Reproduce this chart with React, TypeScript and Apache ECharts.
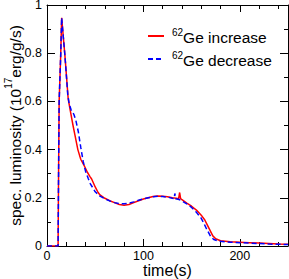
import React, { useEffect, useRef } from "react";
import * as echarts from "echarts";

// time (s) and specific luminosity (10^17 erg/g/s)
const incTime = [0, 10, 11.5, 12, 12.6, 14.2, 15.2, 18.6, 22, 24, 27, 29, 32, 35, 39, 42, 44.6, 46.3, 50, 53, 55, 60, 65, 70, 75, 80, 85, 90, 95, 100, 105, 110, 115, 120, 125, 130, 134, 136.5, 137.6, 138.6, 140, 145, 150, 155, 160, 163.7, 166, 169, 172, 175, 180, 190, 200, 210, 220, 230, 240, 250];
const incLum = [0, 0, 0, 0.3, 0.6, 0.79, 0.947, 0.79, 0.61, 0.565, 0.5, 0.46, 0.4, 0.36, 0.33, 0.305, 0.288, 0.278, 0.245, 0.222, 0.212, 0.198, 0.188, 0.18, 0.172, 0.169, 0.172, 0.18, 0.188, 0.195, 0.2, 0.205, 0.207, 0.206, 0.204, 0.2, 0.198, 0.196, 0.222, 0.197, 0.192, 0.178, 0.165, 0.149, 0.128, 0.108, 0.09, 0.066, 0.042, 0.03, 0.022, 0.018, 0.016, 0.014, 0.012, 0.01, 0.008, 0.007];

const decTime = [0, 10, 11.5, 12, 12.6, 14.2, 15.2, 18.6, 21.5, 23, 25, 28, 30, 32.5, 35, 37.6, 40, 42.8, 45, 50, 55, 60, 65, 70, 75, 80, 85, 90, 95, 100, 105, 110, 115, 120, 125, 130, 132, 132.6, 133.5, 137, 140, 145, 150, 155, 160, 162, 165, 167, 170, 173, 178, 190, 200, 210, 220, 230, 240, 250];
const decLum = [0, 0, 0, 0.3, 0.6, 0.79, 0.947, 0.79, 0.63, 0.59, 0.565, 0.545, 0.52, 0.474, 0.41, 0.35, 0.31, 0.28, 0.258, 0.225, 0.207, 0.196, 0.187, 0.18, 0.176, 0.175, 0.178, 0.183, 0.19, 0.196, 0.2, 0.204, 0.206, 0.205, 0.203, 0.198, 0.197, 0.218, 0.196, 0.193, 0.187, 0.175, 0.16, 0.14, 0.115, 0.1, 0.075, 0.06, 0.038, 0.027, 0.02, 0.016, 0.014, 0.012, 0.01, 0.008, 0.007, 0.006];

const seriesNames = ["62Ge increase", "62Ge decrease"];
const xMajorTicks = [0, 100, 200];

const FONT = "'Liberation Sans', Arial, Helvetica, sans-serif";

function pairs(xs: number[], ys: number[]) {
  return xs.map((x, i) => [x, ys[i]]);
}

function xAxisDef(position: "bottom" | "top", labels: boolean) {
  return {
    type: "value",
    position,
    min: 0,
    max: 250,
    interval: 100,
    axisLine: { show: true, onZero: false, lineStyle: { color: "#000", width: 1 } },
    axisTick: { show: true, inside: true, length: 7, lineStyle: { color: "#000" } },
    minorTick: { show: true, splitNumber: 5, length: 4, lineStyle: { color: "#000" } },
    splitLine: { show: false },
    minorSplitLine: { show: false },
    axisLabel: {
      show: labels,
      color: "#000",
      fontFamily: FONT,
      fontSize: 12.5,
      lineHeight: 12.5,
      margin: 4,
      formatter: (v: number) => (xMajorTicks.indexOf(v) >= 0 ? String(v) : ""),
    },
    ...(labels
      ? {
          name: "time(s)",
          nameLocation: "middle",
          nameGap: 16,
          nameMoveOverlap: false,
          nameTextStyle: { color: "#000", fontFamily: FONT, fontSize: 16, lineHeight: 16, verticalAlign: "top" },
        }
      : {}),
  };
}

function yAxisDef(position: "left" | "right", labels: boolean) {
  return {
    type: "value",
    position,
    min: 0,
    max: 1,
    interval: 0.2,
    axisLine: { show: true, onZero: false, lineStyle: { color: "#000", width: 1 } },
    axisTick: { show: true, inside: true, length: 8, lineStyle: { color: "#000" } },
    minorTick: { show: true, splitNumber: 2, length: 4, lineStyle: { color: "#000" } },
    splitLine: { show: false },
    minorSplitLine: { show: false },
    axisLabel: {
      show: labels,
      color: "#000",
      fontFamily: FONT,
      fontSize: 12.5,
      margin: 5,
    },
    ...(labels
      ? {
          name: "{a|spec. luminosity (10}{s|17}{a|erg/g/s)}",
          nameLocation: "middle",
          nameRotate: 90,
          nameGap: 24,
          nameMoveOverlap: false,
          nameTextStyle: {
            color: "#000",
            fontFamily: FONT,
            rich: {
              a: { fontSize: 15.5, fontFamily: FONT, color: "#000", lineHeight: 20, verticalAlign: "bottom" },
              s: { fontSize: 10, fontFamily: FONT, color: "#000", lineHeight: 20, verticalAlign: "top" },
            },
          },
        }
      : {}),
  };
}

export default function App() {
  const ref = useRef<HTMLDivElement>(null);
  useEffect(() => {
    if (!ref.current) return;
    const chart = echarts.init(ref.current, undefined, { renderer: "svg" });
    chart.setOption({
      animation: false,
      backgroundColor: "#fff",
      textStyle: { fontFamily: FONT },
      grid: { left: 47, right: 1, top: 5, bottom: 33, containLabel: false, outerBoundsMode: "none" },
      legend: {
        orient: "vertical",
        left: 142,
        top: 22,
        itemWidth: 16,
        itemHeight: 12,
        itemGap: 5,
        data: seriesNames,
        itemStyle: { opacity: 0 },
        formatter: (name: string) => "{s|62}{a|" + name.replace("62", "") + "}",
        textStyle: {
          color: "#000",
          fontFamily: FONT,
          rich: {
            s: { fontSize: 10, fontFamily: FONT, color: "#000", lineHeight: 18, verticalAlign: "top", padding: [0, 0, 0, 3] },
            a: { fontSize: 15.5, fontFamily: FONT, color: "#000", lineHeight: 18, verticalAlign: "bottom" },
          },
        },
      },
      xAxis: [xAxisDef("bottom", true), xAxisDef("top", false)],
      yAxis: [yAxisDef("left", true), yAxisDef("right", false)],
      series: [
        {
          name: seriesNames[0],
          type: "line",
          data: pairs(incTime, incLum),
          symbol: "none",
          smooth: false,
          lineStyle: { color: "#ff0000", width: 1.5, type: "solid" },
          itemStyle: { color: "#ff0000" },
          xAxisIndex: 0,
          yAxisIndex: 0,
        },
        {
          name: seriesNames[1],
          type: "line",
          data: pairs(decTime, decLum),
          symbol: "none",
          smooth: false,
          lineStyle: { color: "#0000ff", width: 1.5, type: [5, 3] },
          itemStyle: { color: "#0000ff" },
          xAxisIndex: 0,
          yAxisIndex: 0,
        },
      ],
    });
    return () => chart.dispose();
  }, []);
  return <div ref={ref} style={{ position: "fixed", left: 0, top: 0, width: 289, height: 279 }} />;
}
